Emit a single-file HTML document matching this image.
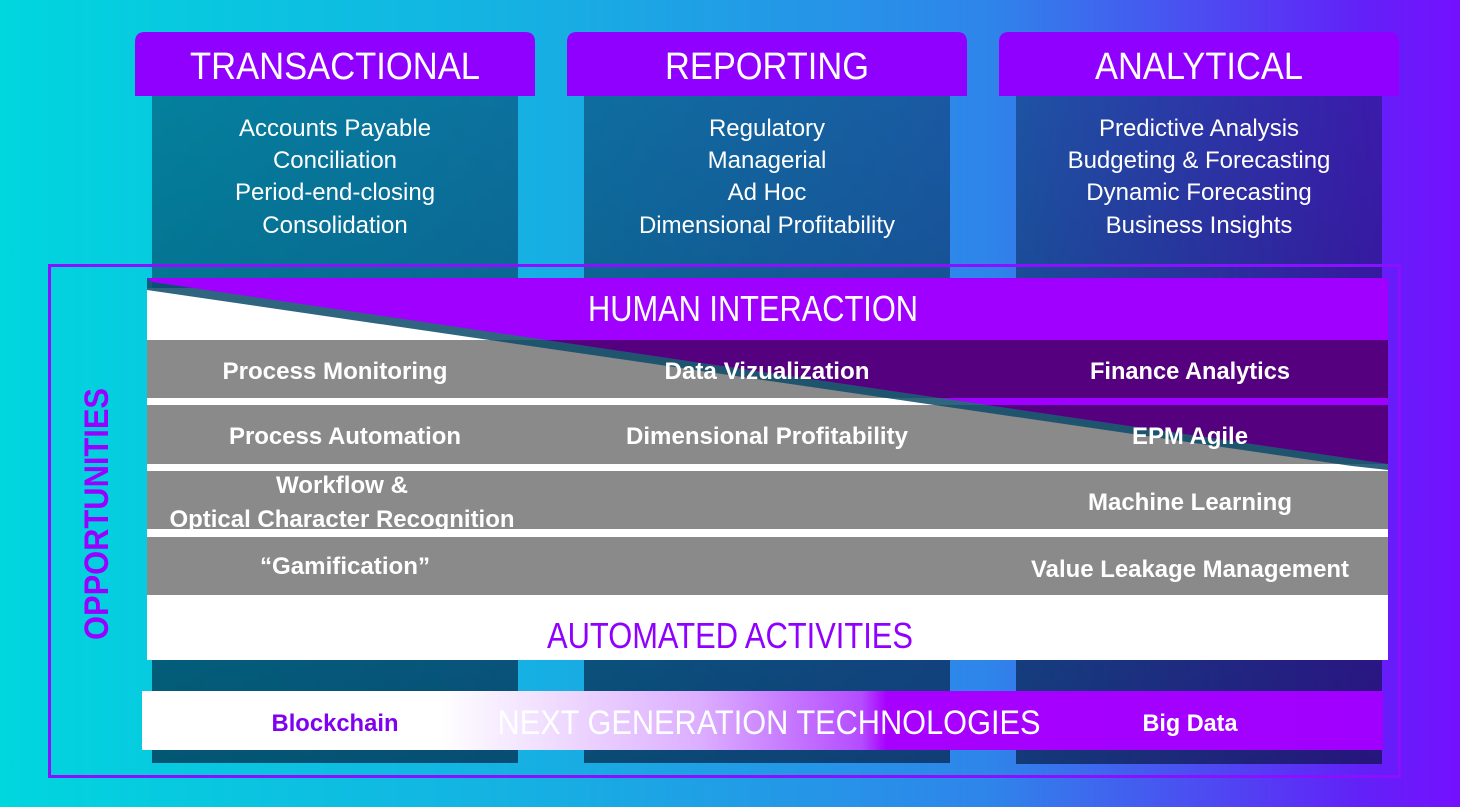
<!DOCTYPE html>
<html><head><meta charset="utf-8"><style>
html,body{margin:0;padding:0;width:1460px;height:807px;overflow:hidden}
svg{display:block}
svg text{font-family:"Liberation Sans",Arial,Helvetica,sans-serif}
</style></head><body>
<svg width="1460" height="807" viewBox="0 0 1460 807" xmlns="http://www.w3.org/2000/svg" font-family="Liberation Sans, Arial, sans-serif">
<defs>
<linearGradient id="bg" x1="0" y1="0" x2="1" y2="0">
<stop offset="0" stop-color="#00d6de"/>
<stop offset="0.38" stop-color="#17aee3"/>
<stop offset="0.68" stop-color="#2f84ea"/>
<stop offset="0.93" stop-color="#6222f7"/>
<stop offset="1" stop-color="#7410ff"/>
</linearGradient>
<linearGradient id="col" x1="0" y1="0" x2="0" y2="1">
<stop offset="0" stop-color="#001840" stop-opacity="0.42"/>
<stop offset="1" stop-color="#001030" stop-opacity="0.62"/>
</linearGradient>
<linearGradient id="ngt" x1="142" y1="0" x2="1383" y2="0" gradientUnits="userSpaceOnUse">
<stop offset="0.24" stop-color="#ffffff"/>
<stop offset="0.45" stop-color="#dcaeff"/>
<stop offset="0.58" stop-color="#b44cff"/>
<stop offset="0.6" stop-color="#a800ff"/>
<stop offset="1" stop-color="#a000ff"/>
</linearGradient>
</defs>
<rect width="1460" height="807" fill="url(#bg)"/>

<rect x="152" y="96" width="366" height="667" fill="url(#col)"/>
<rect x="584" y="96" width="366" height="667" fill="url(#col)"/>
<rect x="1016" y="96" width="366" height="668" fill="url(#col)"/>

<path d="M135,96 V42 Q135,32 145,32 H525 Q535,32 535,42 V96 Z" fill="#9000ff"/>
<path d="M567,96 V42 Q567,32 577,32 H957 Q967,32 967,42 V96 Z" fill="#9000ff"/>
<path d="M999,96 V42 Q999,32 1009,32 H1389 Q1399,32 1399,42 V96 Z" fill="#9000ff"/>
<text x="335" y="79" fill="#fff" font-size="38" text-anchor="middle" textLength="290" lengthAdjust="spacingAndGlyphs">TRANSACTIONAL</text>
<text x="767" y="79" fill="#fff" font-size="38" text-anchor="middle" textLength="204" lengthAdjust="spacingAndGlyphs">REPORTING</text>
<text x="1199" y="79" fill="#fff" font-size="38" text-anchor="middle" textLength="208" lengthAdjust="spacingAndGlyphs">ANALYTICAL</text>

<g fill="#fff" font-size="24" text-anchor="middle">
<text x="335" y="136">Accounts Payable</text>
<text x="335" y="168">Conciliation</text>
<text x="335" y="200">Period-end-closing</text>
<text x="335" y="233">Consolidation</text>
<text x="767" y="136">Regulatory</text>
<text x="767" y="168">Managerial</text>
<text x="767" y="200">Ad Hoc</text>
<text x="767" y="233">Dimensional Profitability</text>
<text x="1199" y="136">Predictive Analysis</text>
<text x="1199" y="168">Budgeting &amp; Forecasting</text>
<text x="1199" y="200">Dynamic Forecasting</text>
<text x="1199" y="233">Business Insights</text>
</g>

<rect x="49.5" y="265.5" width="1350" height="511" fill="none" stroke="#8a10ff" stroke-width="3"/>

<rect x="147" y="288" width="1241" height="372" fill="#ffffff"/>
<rect x="147" y="340" width="1241" height="58" fill="#8a8a8a"/>
<rect x="147" y="405" width="1241" height="59" fill="#8a8a8a"/>
<rect x="147" y="471" width="1241" height="58" fill="#8a8a8a"/>
<rect x="147" y="537" width="1241" height="58" fill="#8a8a8a"/>

<polygon points="147,278 1388,278 1388,470 1352,466 147,290" fill="#0c4a6a" opacity="0.85"/>
<clipPath id="tri"><polygon points="147,278 1388,278 1388,464 152,282"/></clipPath>
<g clip-path="url(#tri)">
<rect x="147" y="278" width="1241" height="200" fill="#a000ff"/>
<rect x="147" y="340" width="1241" height="58" fill="#55007f"/>
<rect x="147" y="405" width="1241" height="59" fill="#55007f"/>
</g>

<text x="753" y="321" fill="#fff" font-size="36" text-anchor="middle" textLength="330" lengthAdjust="spacingAndGlyphs">HUMAN INTERACTION</text>

<g fill="#fff" font-size="24" font-weight="bold" text-anchor="middle">
<text x="335" y="379" textLength="225" lengthAdjust="spacingAndGlyphs">Process Monitoring</text>
<text x="767" y="379" textLength="205" lengthAdjust="spacingAndGlyphs">Data Vizualization</text>
<text x="1190" y="379" textLength="200" lengthAdjust="spacingAndGlyphs">Finance Analytics</text>
<text x="345" y="444" textLength="232" lengthAdjust="spacingAndGlyphs">Process Automation</text>
<text x="767" y="444" textLength="282" lengthAdjust="spacingAndGlyphs">Dimensional Profitability</text>
<text x="1190" y="444" textLength="116" lengthAdjust="spacingAndGlyphs">EPM Agile</text>
<text x="342" y="493" textLength="132" lengthAdjust="spacingAndGlyphs">Workflow &amp;</text>
<text x="342" y="527" textLength="345" lengthAdjust="spacingAndGlyphs">Optical Character Recognition</text>
<text x="1190" y="510" textLength="204" lengthAdjust="spacingAndGlyphs">Machine Learning</text>
<text x="345" y="574" textLength="170" lengthAdjust="spacingAndGlyphs">“Gamification”</text>
<text x="1190" y="577" textLength="318" lengthAdjust="spacingAndGlyphs">Value Leakage Management</text>
</g>

<text x="730" y="648" fill="#9000ff" font-size="36" text-anchor="middle" textLength="366" lengthAdjust="spacingAndGlyphs">AUTOMATED ACTIVITIES</text>

<text transform="translate(108,514) rotate(-90)" fill="#9a00ff" font-size="34" font-weight="bold" text-anchor="middle" textLength="252" lengthAdjust="spacingAndGlyphs">OPPORTUNITIES</text>

<rect x="142" y="691" width="1241" height="59" fill="url(#ngt)"/>
<text x="335" y="731" fill="#8000f0" font-size="24" font-weight="bold" text-anchor="middle" textLength="127" lengthAdjust="spacingAndGlyphs">Blockchain</text>
<text x="769" y="734" fill="#fff" font-size="34" text-anchor="middle" textLength="543" lengthAdjust="spacingAndGlyphs">NEXT GENERATION TECHNOLOGIES</text>
<text x="1190" y="731" fill="#fff" font-size="24" font-weight="bold" text-anchor="middle" textLength="95" lengthAdjust="spacingAndGlyphs">Big Data</text>
</svg>
</body></html>
